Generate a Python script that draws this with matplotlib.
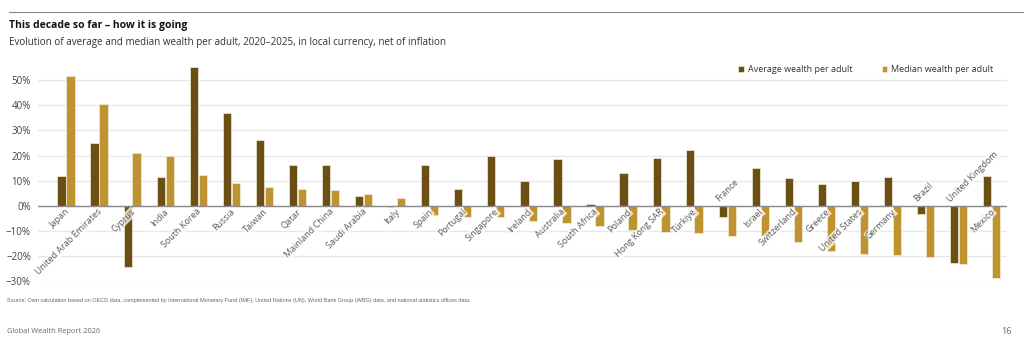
# -*- coding: utf-8 -*-
# Evolution of average and median wealth per adult, 2020-2025
import numpy as np
import matplotlib
matplotlib.use('Agg')
import matplotlib.pyplot as plt

plt.rcParams['font.family'] = ['Open Sans', 'DejaVu Sans']

# data (percent)
countries = ['Japan', 'United Arab Emirates', 'Cyprus', 'India', 'South Korea', 'Russia',
             'Taiwan', 'Qatar', 'Mainland China', 'Saudi Arabia', 'Italy', 'Spain',
             'Portugal', 'Singapore', 'Ireland', 'Australia', 'South Africa', 'Poland',
             'Hong Kong SAR', 'Türkiye', 'France', 'Israel', 'Switzerland', 'Greece',
             'United States', 'Germany', 'Brazil', 'United Kingdom', 'Mexico']
average = [12.0, 25.0, -24.5, 11.5, 55.3, 36.8, 26.1, 16.1, 16.1, 3.9, -0.5, 16.1,
           6.8, 19.8, 10.0, 18.8, 0.7, 12.9, 19.2, 22.0, -4.5, 15.1, 11.1, 8.8,
           10.0, 11.5, -3.2, -22.9, 11.9]
median = [51.6, 40.3, 20.8, 19.8, 12.1, 9.2, 7.6, 6.8, 6.4, 4.8, 3.1, -3.7,
          -4.5, -4.5, -6.1, -6.9, -8.1, -9.7, -10.5, -11.0, -12.1, -12.1, -14.6, -18.1,
          -19.3, -19.7, -20.5, -23.3, -28.9]
# labels drawn above the zero line in the original
labels_above = ['France', 'Brazil', 'United Kingdom']
yticks = [-30, -20, -10, 0, 10, 20, 30, 40, 50]

c_avg = '#6b4f14'
c_med = '#bf9232'
grey = '#5a5a5a'

fig = plt.figure(figsize=(10.24, 3.51), dpi=100)
ax = fig.add_axes([0.037, 0.199, 0.946, 0.63])

x = np.arange(len(countries))
w = 0.25
ax.bar(x - 0.135, average, w, color=c_avg, edgecolor='#f3ecd8', linewidth=0.5,
       label='Average wealth per adult', zorder=3)
ax.bar(x + 0.135, median, w, color=c_med, edgecolor='#f3ecd8', linewidth=0.5,
       label='Median wealth per adult', zorder=3)

ax.set_xlim(-0.85, len(countries) - 0.55)
ax.set_ylim(-30, 58)
ax.set_yticks(yticks)
ax.set_yticklabels([('\u2212' + str(-t) if t < 0 else str(t)) + '%' for t in yticks],
                   fontsize=7, color='#444444')
ax.set_xticks([])
ax.tick_params(axis='y', length=0, pad=5)
for s in ax.spines.values():
    s.set_visible(False)
ax.yaxis.grid(True, color='#e8e8e8', linewidth=1, zorder=0)
ax.axhline(0, color='#8a8a8a', linewidth=1, zorder=4)

box = dict(facecolor='white', alpha=0.75, edgecolor='none', pad=0.3)
for i, name in enumerate(countries):
    if name in labels_above:
        ax.text(i - 0.2, 0.8, name, rotation=45, ha='left', va='bottom',
                rotation_mode='anchor', fontsize=6.5, color=grey, zorder=5, bbox=box)
    else:
        ax.text(i + 0.05, -1.8, name, rotation=45, ha='right', va='center',
                rotation_mode='anchor', fontsize=6.5, color=grey, zorder=5, bbox=box)

leg = ax.legend(loc='upper right', bbox_to_anchor=(0.995, 1.015), ncol=2, frameon=False,
                fontsize=6.5, handlelength=0.6, handleheight=0.6, columnspacing=3.2,
                handletextpad=0.5)
for t in leg.get_texts():
    t.set_color('#333333')

# header and footer
fig.add_artist(plt.Line2D([0.009, 1.0], [0.966, 0.966], color='#888888', linewidth=0.8))
fig.text(0.009, 0.928, 'This decade so far \u2013 how it is going', fontsize=7.5,
         fontweight='bold', color='#111111', va='center')
fig.text(0.009, 0.88, 'Evolution of average and median wealth per adult, 2020\u20132025, '
         'in local currency, net of inflation', fontsize=7.1, color='#333333', va='center')
fig.text(0.007, 0.143, 'Source: Own calculation based on OECD data, complemented by '
         'International Monetary Fund (IMF), United Nations (UN), World Bank Group (WBG) '
         'data, and national statistics offices data.', fontsize=4.0,
         family=['Liberation Sans Narrow', 'Liberation Sans', 'DejaVu Sans'],
         color='#666666', va='center')
fig.text(0.007, 0.055, 'Global Wealth Report 2026', fontsize=5.4, color='#666666', va='center')
fig.text(0.988, 0.055, '16', fontsize=6.5, color='#666666', va='center', ha='right')

fig.savefig('out.png', dpi=100)
